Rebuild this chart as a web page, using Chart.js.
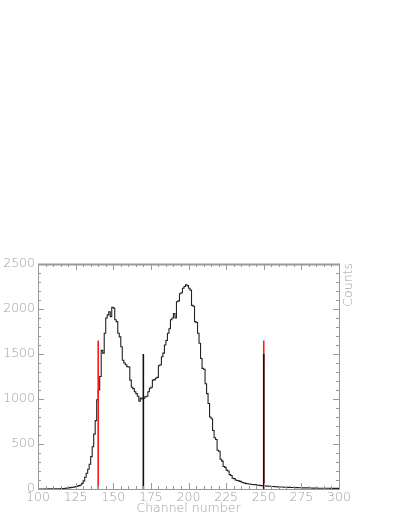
<!DOCTYPE html>
<html>
<head>
<meta charset="utf-8">
<script src="https://cdn.jsdelivr.net/npm/chart.js@4"></script>
<style>
  html, body { margin: 0; padding: 0; background: #fff; }
  #container { width: 407px; height: 527px; }
</style>
</head>
<body>
<div id="container"><canvas id="canvas" width="407" height="527"></canvas></div>
<script>
// histogram: one bin per channel, starting at channel 100
const firstChannel = 100;
const counts = [
  0, 0, 0, 0, 0, 0, 1, 0, 1, 1,
  1, 2, 1, 2, 3, 3, 4, 5, 6, 8,
  10, 12, 15, 18, 20, 24, 27, 32, 38, 45,
  62, 90, 130, 175, 220, 275, 360, 470, 610, 760,
  990, 1100, 1250, 1540, 1510, 1730, 1900, 1935, 1970, 1915,
  2020, 2010, 1880, 1860, 1730, 1690, 1580, 1430, 1400, 1380,
  1360, 1355, 1210, 1130, 1115, 1080, 1060, 1030, 975, 1010,
  1000, 1010, 1025, 1030, 1080, 1120, 1130, 1210, 1215, 1230,
  1240, 1370, 1380, 1470, 1510, 1600, 1650, 1730, 1780, 1880,
  1900, 1950, 1900, 2080, 2090, 2170, 2180, 2230, 2250, 2270,
  2260, 2230, 2210, 2040, 2030, 1860, 1850, 1730, 1620, 1450,
  1340, 1330, 1170, 1060, 950, 800, 780, 650, 570, 550,
  430, 420, 330, 310, 250, 240, 210, 200, 160, 150,
  120, 115, 100, 95, 90, 85, 75, 70, 65, 60,
  58, 55, 52, 50, 48, 50, 45, 42, 40, 38,
  37, 35, 33, 32, 30, 30, 28, 27, 26, 25,
  24, 23, 22, 22, 20, 20, 19, 18, 18, 17,
  16, 16, 15, 15, 14, 14, 13, 13, 12, 12,
  12, 11, 11, 10, 10, 10, 10, 9, 9, 9,
  9, 8, 8, 8, 8, 7, 7, 7, 7, 7
];

// marker lines: channel, height, colour
const markerChannels = [140, 170, 250, 250];
const markerHeights  = [1650, 1500, 1650, 1500];
const markerColors   = ['#ff1a1a', '#111111', '#ff1a1a', '#111111'];
const markerOrder    = [1, 1, 3, 0];

const xTicks = [100, 125, 150, 175, 200, 225, 250, 275, 300];
const yTicks = [0, 500, 1000, 1500, 2000, 2500];

const axisColor = '#999999';
const labelColor = '#a0a0a0';
const labelFont = { family: 'DejaVu Sans', size: 12.5, weight: 200 };

const histPoints = counts.map((v, i) => ({ x: firstChannel + i, y: v }));
histPoints.push({ x: firstChannel + counts.length, y: counts[counts.length - 1] });

const datasets = [{
  data: histPoints,
  borderColor: '#222222',
  borderWidth: 1.1,
  stepped: 'after',
  pointRadius: 0,
  fill: false,
  order: 2
}];
markerChannels.forEach((c, i) => {
  datasets.push({
    data: [{ x: c, y: 0 }, { x: c, y: markerHeights[i] }],
    borderColor: markerColors[i],
    borderWidth: 1.6,
    pointRadius: 0,
    fill: false,
    order: markerOrder[i]
  });
});

// frame with inward major/minor ticks, plus the right-hand "Counts" title
const framePlugin = {
  id: 'frame',
  afterDatasetsDraw(chart) {
    const { ctx, chartArea: a, scales: { x, y } } = chart;
    ctx.save();
    ctx.strokeStyle = axisColor;
    ctx.lineWidth = 1;
    ctx.strokeRect(a.left + 0.5, a.top + 0.5, a.right - a.left, a.bottom - a.top);
    ctx.lineWidth = 2;
    ctx.beginPath();
    ctx.moveTo(a.left, a.top + 0.5);
    ctx.lineTo(a.right + 1, a.top + 0.5);
    ctx.stroke();
    ctx.lineWidth = 1;
    ctx.beginPath();
    for (let v = 100; v <= 300; v += 5) {
      const px = Math.round(x.getPixelForValue(v)) + 0.5;
      const len = v % 25 === 0 ? 6 : 3;
      ctx.moveTo(px, a.bottom); ctx.lineTo(px, a.bottom - len);
      ctx.moveTo(px, a.top); ctx.lineTo(px, a.top + len);
    }
    for (let v = 0; v <= 2500; v += 100) {
      const py = Math.round(y.getPixelForValue(v)) + 0.5;
      const len = v % 500 === 0 ? 6 : 3;
      ctx.moveTo(a.left, py); ctx.lineTo(a.left + len, py);
      ctx.moveTo(a.right, py); ctx.lineTo(a.right - len, py);
    }
    ctx.stroke();

    ctx.fillStyle = labelColor;
    ctx.font = `${labelFont.weight} ${labelFont.size}px "${labelFont.family}"`;
    ctx.translate(a.right + 10, a.top - 1);
    ctx.rotate(-Math.PI / 2);
    ctx.textAlign = 'right';
    ctx.textBaseline = 'middle';
    ctx.fillText('Counts', 0, 0);
    ctx.restore();
  }
};

new Chart(document.getElementById('canvas').getContext('2d'), {
  type: 'line',
  data: { datasets },
  options: {
    responsive: false,
    animation: false,
    layout: { padding: { left: 0, top: 264, right: 68, bottom: 0 } },
    plugins: { legend: { display: false }, tooltip: { enabled: false } },
    scales: {
      x: {
        type: 'linear',
        min: 100,
        max: 300,
        afterFit(scale) { scale.height = 38; },
        afterBuildTicks(scale) { scale.ticks = xTicks.map(v => ({ value: v })); },
        grid: { display: false, drawTicks: false, tickLength: 0 },
        border: { display: false },
        ticks: { color: labelColor, font: labelFont, padding: 1, maxRotation: 0,
                 callback: v => String(v) },
        title: {
          display: true,
          text: 'Channel number',
          color: labelColor,
          font: labelFont,
          padding: { top: 0, bottom: 11 }
        }
      },
      y: {
        type: 'linear',
        min: 0,
        max: 2500,
        afterFit(scale) { scale.width = 38; },
        afterBuildTicks(scale) { scale.ticks = yTicks.map(v => ({ value: v })); },
        grid: { display: false, drawTicks: false, tickLength: 0 },
        border: { display: false },
        ticks: { color: labelColor, font: labelFont, padding: 3,
                 callback: v => String(v) }
      }
    }
  },
  plugins: [framePlugin]
});
</script>
</body>
</html>
